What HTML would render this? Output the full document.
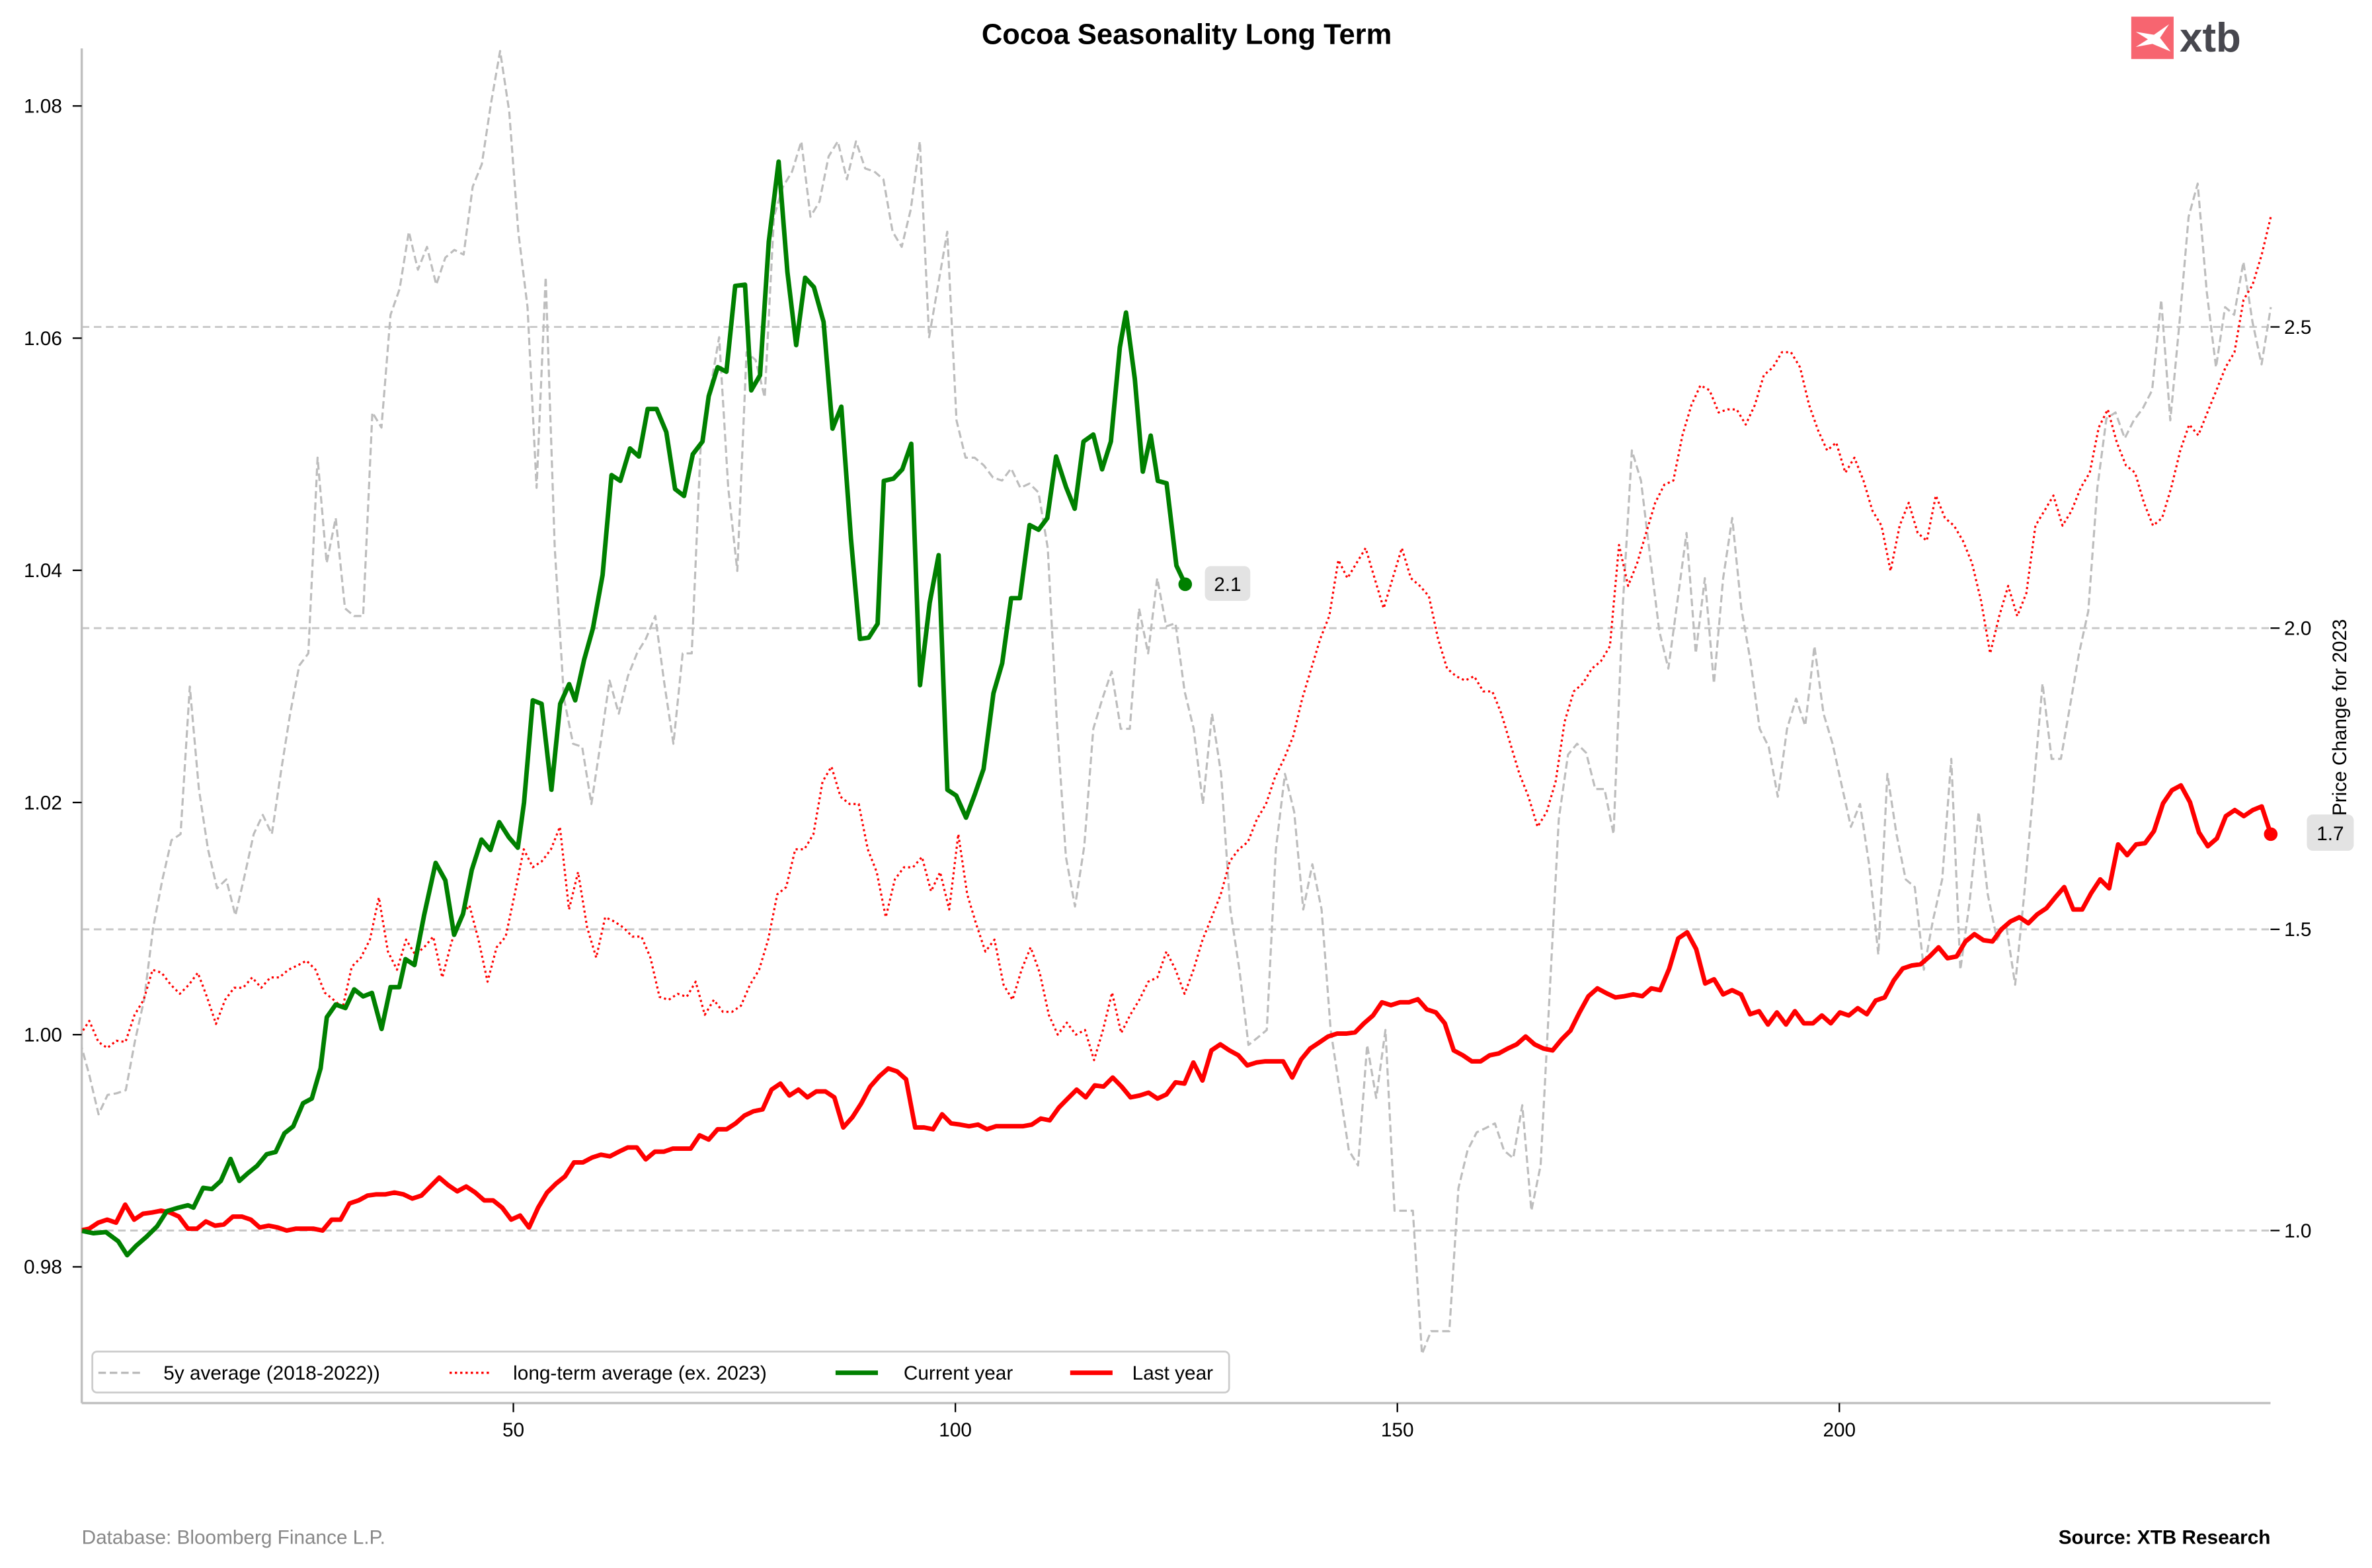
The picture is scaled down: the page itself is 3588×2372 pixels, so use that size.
<!DOCTYPE html>
<html><head><meta charset="utf-8"><style>
html,body{margin:0;padding:0;background:#fff;}
svg{display:block;font-family:"Liberation Sans",Arial,sans-serif;}
</style></head><body>
<svg id="chart" width="3588" height="2372" viewBox="0 0 1560 1031.3" xmlns="http://www.w3.org/2000/svg">
<rect x="0" y="0" width="1560" height="1031.3" fill="#fff"/>
<g id="root" transform="scale(0.9955)">
<text x="784" y="29" text-anchor="middle" font-size="19" font-weight="bold" fill="#000">Cocoa Seasonality Long Term</text>
<g>
<rect x="1408" y="11" width="28" height="28" fill="#f76570"/>
<path d="M1411 21 L1423 23 L1433 16 L1427 25 L1434 34 L1422 29 L1411 31 L1419 26 Z" fill="#fff"/>
<text x="1440" y="34" font-size="27" font-weight="bold" fill="#47474e">xtb</text>
</g>
<g id="grid"></g>
<g id="axes"></g>
<g id="series"></g>
<g id="annot"></g>
<g>
<rect x="61" y="893" width="751" height="27" rx="3" fill="#fff" stroke="#ccc" stroke-width="1.2"/>
<g><line x1="65" y1="907" x2="93" y2="907" stroke="#bbb" stroke-width="1.5" stroke-dasharray="5,2.5"/><text x="108" y="911.5" font-size="13">5y average (2018-2022))</text></g>
<g><line x1="297" y1="907" x2="325" y2="907" stroke="#f00" stroke-width="1.5" stroke-dasharray="1.5,2"/><text x="339" y="911.5" font-size="13">long-term average (ex. 2023)</text></g>
<g><line x1="552" y1="907" x2="580" y2="907" stroke="#008000" stroke-width="3"/><text x="597" y="911.5" font-size="13">Current year</text></g>
<g><line x1="707" y1="907" x2="735" y2="907" stroke="#f00" stroke-width="3"/><text x="748" y="911.5" font-size="13">Last year</text></g>
</g>
<text x="54" y="1020" font-size="13" fill="#888">Database: Bloomberg Finance L.P.</text>
<text x="1500" y="1020" font-size="13" font-weight="bold" text-anchor="end" fill="#000">Source: XTB Research</text>
</g>
</svg>
<script>
const xTicks = [50, 100, 150, 200];
const leftTicks = [0.98, 1.00, 1.02, 1.04, 1.06, 1.08];
const rightTicks = [1.0, 1.5, 2.0, 2.5];
const currentDays = [1.2,2.5,3.9,5.3,6.3,7.3,8.5,9.7,10.8,12.1,13.2,13.8,14.9,15.9,16.9,18.0,19.0,20.0,21.0,22.1,23.1,24.1,25.1,26.2,27.2,28.2,28.9,29.9,31.0,32.0,33.0,34.0,35.1,36.1,37.1,37.8,38.8,39.9,41.2,42.3,43.3,44.3,45.3,46.4,47.4,48.4,49.5,50.5,51.2,52.2,53.2,54.3,55.3,56.3,57.0,58.0,59.0,60.1,61.1,62.1,63.2,64.2,65.2,66.2,67.3,68.3,69.3,70.3,71.4,72.1,73.1,74.1,75.1,76.2,76.9,77.9,78.9,80.0,81.0,82.0,83.0,84.0,85.1,86.1,87.1,88.2,89.2,90.2,91.2,91.9,93.0,94.0,95.0,96.0,97.1,98.1,99.1,100.1,101.2,102.2,103.2,104.3,105.3,106.3,107.3,108.4,109.4,110.4,111.4,112.5,113.5,114.5,115.6,116.6,117.6,118.6,119.3,120.3,121.2,122.1,122.9,123.9,125.0,126.0];
const currentVals = [0.9831,0.9829,0.9830,0.9822,0.9810,0.9818,0.9826,0.9835,0.9848,0.9851,0.9853,0.9851,0.9868,0.9867,0.9874,0.9893,0.9874,0.9881,0.9887,0.9897,0.9899,0.9915,0.9921,0.9941,0.9945,0.9971,1.0015,1.0026,1.0023,1.0039,1.0033,1.0036,1.0005,1.0041,1.0041,1.0065,1.0060,1.0103,1.0148,1.0133,1.0086,1.0104,1.0142,1.0168,1.0159,1.0183,1.0170,1.0161,1.0200,1.0288,1.0285,1.0211,1.0285,1.0302,1.0288,1.0323,1.0350,1.0396,1.0482,1.0477,1.0505,1.0498,1.0539,1.0539,1.0519,1.0470,1.0464,1.0500,1.0511,1.0550,1.0575,1.0571,1.0645,1.0646,1.0555,1.0568,1.0683,1.0752,1.0657,1.0594,1.0652,1.0644,1.0614,1.0522,1.0541,1.0427,1.0341,1.0342,1.0354,1.0477,1.0479,1.0487,1.0509,1.0301,1.0372,1.0413,1.0211,1.0206,1.0187,1.0207,1.0229,1.0294,1.0320,1.0376,1.0376,1.0439,1.0435,1.0445,1.0498,1.0472,1.0453,1.0511,1.0517,1.0487,1.0511,1.0592,1.0622,1.0565,1.0485,1.0516,1.0477,1.0475,1.0404,1.0388];
const lastYearVals = [1.000,1.003,1.013,1.018,1.013,1.043,1.018,1.028,1.030,1.033,1.030,1.023,1.003,1.003,1.015,1.008,1.010,1.023,1.023,1.018,1.005,1.008,1.005,1.000,1.003,1.003,1.003,1.000,1.018,1.018,1.045,1.050,1.058,1.060,1.060,1.063,1.060,1.053,1.058,1.073,1.088,1.075,1.065,1.073,1.063,1.050,1.050,1.038,1.018,1.025,1.005,1.038,1.063,1.078,1.090,1.113,1.113,1.121,1.126,1.123,1.131,1.138,1.138,1.118,1.131,1.131,1.136,1.136,1.136,1.158,1.151,1.168,1.168,1.178,1.191,1.198,1.201,1.234,1.244,1.224,1.234,1.221,1.231,1.231,1.221,1.171,1.188,1.211,1.239,1.256,1.269,1.264,1.251,1.171,1.171,1.168,1.193,1.178,1.176,1.173,1.176,1.168,1.173,1.173,1.173,1.173,1.176,1.186,1.183,1.204,1.219,1.234,1.221,1.241,1.239,1.254,1.239,1.221,1.224,1.229,1.219,1.226,1.246,1.244,1.279,1.249,1.299,1.309,1.299,1.291,1.274,1.279,1.281,1.281,1.281,1.254,1.284,1.302,1.312,1.322,1.327,1.327,1.329,1.344,1.357,1.379,1.374,1.379,1.379,1.384,1.367,1.362,1.344,1.299,1.291,1.281,1.281,1.291,1.294,1.302,1.309,1.322,1.309,1.302,1.299,1.317,1.332,1.362,1.389,1.402,1.394,1.387,1.389,1.392,1.389,1.402,1.399,1.435,1.485,1.495,1.467,1.410,1.417,1.392,1.399,1.392,1.359,1.364,1.342,1.362,1.342,1.364,1.344,1.344,1.357,1.344,1.362,1.357,1.369,1.359,1.382,1.387,1.415,1.435,1.440,1.442,1.455,1.470,1.452,1.455,1.480,1.492,1.482,1.480,1.500,1.513,1.520,1.510,1.525,1.535,1.553,1.570,1.533,1.533,1.560,1.583,1.568,1.641,1.623,1.641,1.643,1.663,1.709,1.731,1.739,1.711,1.661,1.638,1.651,1.688,1.698,1.688,1.698,1.704,1.658];
const longTermVals = [1.325,1.348,1.313,1.303,1.315,1.313,1.358,1.383,1.433,1.428,1.408,1.393,1.408,1.428,1.388,1.343,1.383,1.403,1.403,1.42,1.403,1.42,1.42,1.433,1.44,1.448,1.433,1.395,1.383,1.37,1.438,1.453,1.483,1.553,1.463,1.433,1.483,1.458,1.47,1.488,1.42,1.478,1.52,1.54,1.483,1.413,1.47,1.488,1.558,1.633,1.603,1.613,1.633,1.67,1.533,1.595,1.503,1.453,1.52,1.513,1.503,1.488,1.488,1.453,1.388,1.383,1.393,1.388,1.413,1.358,1.383,1.363,1.363,1.373,1.408,1.433,1.483,1.558,1.57,1.633,1.633,1.658,1.745,1.77,1.72,1.708,1.708,1.633,1.595,1.52,1.583,1.603,1.603,1.62,1.563,1.595,1.533,1.658,1.558,1.508,1.463,1.483,1.408,1.383,1.433,1.47,1.428,1.358,1.325,1.345,1.325,1.333,1.283,1.333,1.395,1.328,1.358,1.383,1.413,1.42,1.463,1.433,1.393,1.433,1.483,1.52,1.558,1.613,1.633,1.645,1.683,1.708,1.753,1.783,1.82,1.883,1.933,1.983,2.02,2.113,2.083,2.108,2.133,2.083,2.033,2.083,2.133,2.083,2.07,2.053,1.983,1.933,1.92,1.913,1.92,1.895,1.895,1.858,1.808,1.758,1.72,1.67,1.695,1.745,1.845,1.895,1.908,1.933,1.945,1.97,2.138,2.07,2.108,2.158,2.208,2.238,2.245,2.32,2.37,2.403,2.395,2.358,2.363,2.363,2.338,2.37,2.42,2.433,2.458,2.458,2.433,2.37,2.328,2.295,2.308,2.258,2.283,2.245,2.195,2.17,2.095,2.17,2.208,2.158,2.145,2.22,2.183,2.17,2.145,2.108,2.045,1.958,2.02,2.07,2.02,2.058,2.17,2.195,2.22,2.17,2.195,2.233,2.258,2.333,2.363,2.308,2.27,2.258,2.208,2.17,2.183,2.233,2.295,2.338,2.32,2.358,2.395,2.433,2.458,2.545,2.57,2.62,2.683];
const fiveYearVals = [1.313,1.258,1.193,1.225,1.228,1.233,1.315,1.383,1.503,1.583,1.648,1.658,1.903,1.733,1.633,1.568,1.583,1.523,1.588,1.658,1.69,1.658,1.763,1.858,1.938,1.958,2.283,2.108,2.183,2.033,2.02,2.02,2.358,2.333,2.52,2.563,2.658,2.595,2.633,2.57,2.615,2.628,2.62,2.733,2.77,2.87,2.958,2.858,2.658,2.533,2.233,2.583,2.133,1.883,1.808,1.803,1.708,1.808,1.913,1.858,1.92,1.958,1.983,2.02,1.908,1.808,1.958,1.958,2.308,2.395,2.483,2.233,2.095,2.458,2.445,2.383,2.683,2.733,2.758,2.808,2.683,2.708,2.783,2.808,2.745,2.808,2.763,2.758,2.745,2.658,2.633,2.695,2.808,2.483,2.57,2.658,2.345,2.283,2.283,2.27,2.25,2.245,2.265,2.233,2.24,2.225,2.133,1.845,1.62,1.538,1.638,1.833,1.883,1.928,1.833,1.833,2.033,1.958,2.083,2.003,2.008,1.895,1.833,1.708,1.858,1.758,1.533,1.433,1.308,1.32,1.333,1.633,1.758,1.695,1.533,1.608,1.533,1.333,1.233,1.133,1.108,1.308,1.22,1.333,1.033,1.033,1.033,0.795,0.833,0.833,0.833,1.07,1.133,1.163,1.17,1.178,1.133,1.12,1.208,1.033,1.108,1.395,1.683,1.79,1.808,1.793,1.733,1.733,1.658,2.033,2.295,2.245,2.12,1.995,1.933,2.045,2.158,1.958,2.083,1.908,2.083,2.183,2.033,1.945,1.833,1.803,1.72,1.833,1.883,1.838,1.97,1.858,1.808,1.738,1.67,1.708,1.608,1.458,1.758,1.658,1.583,1.57,1.433,1.515,1.583,1.783,1.433,1.545,1.695,1.558,1.483,1.508,1.408,1.558,1.733,1.908,1.783,1.783,1.87,1.958,2.028,2.233,2.348,2.358,2.315,2.345,2.365,2.395,2.545,2.345,2.508,2.683,2.738,2.558,2.433,2.533,2.52,2.608,2.508,2.438,2.533];

const NS = 'http://www.w3.org/2000/svg';
const PL = 54, PR = 1500, PT = 32, PB = 927;
const X0 = 1, X1 = 248.8;
function sx(d){ return 53 + (d - 1) * 5.84; }
function syL(v){ return 837 - (v - 0.98) * 7670; }
function syR(v){ return 813 - (v - 1.0) * 398; }
function spread(n){ const a=[]; for(let i=0;i<n;i++) a.push(X0 + i*(X1-X0)/(n-1)); return a; }
function mk(tag, attrs, parent){ const e=document.createElementNS(NS, tag); for(const k in attrs) e.setAttribute(k, attrs[k]); parent.appendChild(e); return e; }

const svg = document.getElementById('chart');
const root = document.getElementById('root');
const defs = mk('defs', {}, svg);
const cp = mk('clipPath', {id:'plotclip'}, defs);
mk('rect', {x:PL, y:PT, width:PR-PL+2, height:PB-PT}, cp);

const grid = document.getElementById('grid');
rightTicks.forEach(t => {
  const l = mk('line', {x1:PL, x2:PR, y1:syR(t), y2:syR(t), stroke:'#c8c8c8', 'stroke-width':1.3, 'stroke-dasharray':'5,3'}, grid);
  
  
});

const axes = document.getElementById('axes');
const ls = mk('line', {x1:PL, x2:PL, y1:PT, y2:PB, stroke:'#c0c0c0', 'stroke-width':1.5}, axes);


const bs = mk('line', {x1:PL, x2:PR, y1:PB, y2:PB, stroke:'#c0c0c0', 'stroke-width':1.5}, axes);


leftTicks.forEach(t => {
  const y = syL(t);
  mk('line', {x1:48, x2:PL, y1:y, y2:y, stroke:'#000', 'stroke-width':1}, axes);
  const tx = mk('text', {x:41, y:y+4.5, 'text-anchor':'end', 'font-size':13}, axes);
  tx.textContent = t.toFixed(2);
  
  
});
rightTicks.forEach(t => {
  const y = syR(t);
  mk('line', {x1:PR, x2:PR+6, y1:y, y2:y, stroke:'#000', 'stroke-width':1}, axes);
  const tx = mk('text', {x:PR+9, y:y+4.5, 'font-size':13}, axes);
  tx.textContent = t.toFixed(1);
  
  
});
xTicks.forEach(t => {
  const x = sx(t);
  mk('line', {x1:x, x2:x, y1:PB, y2:PB+6, stroke:'#000', 'stroke-width':1}, axes);
  const tx = mk('text', {x:x, y:PB+22, 'text-anchor':'middle', 'font-size':13}, axes);
  tx.textContent = t;
  
  
});
const yl = mk('text', {x:0, y:0, 'text-anchor':'middle', 'font-size':13, transform:'translate(1550,474) rotate(-90)'}, axes);
yl.textContent = 'Price Change for 2023';



const series = document.getElementById('series');
series.setAttribute('clip-path', 'url(#plotclip)');
function line(days, vals, sy, style, name){
  const pts = vals.map((v,i) => sx(days[i]).toFixed(1) + ',' + sy(v).toFixed(1)).join(' ');
  const p = mk('polyline', Object.assign({points:pts, fill:'none', 'stroke-linejoin':'round'}, style), series);
  
  
  return p;
}
line(spread(fiveYearVals.length), fiveYearVals, syR, {stroke:'#bdbdbd', 'stroke-width':1.4, 'stroke-dasharray':'5,2.5'}, 'five-year-average-line');
line(spread(longTermVals.length), longTermVals, syR, {stroke:'#ff0000', 'stroke-width':1.4, 'stroke-dasharray':'1.4,2'}, 'long-term-average-line');
const lyDays = spread(lastYearVals.length);
line(lyDays, lastYearVals, syR, {stroke:'#ff0000', 'stroke-width':3}, 'last-year-line');
line(currentDays, currentVals, syL, {stroke:'#008000', 'stroke-width':3}, 'current-year-line');

const annot = document.getElementById('annot');
const gx = sx(currentDays[currentDays.length-1]), gy = syL(currentVals[currentVals.length-1]);
const gd = mk('circle', {cx:gx, cy:gy, r:4.5, fill:'#008000'}, annot);


mk('rect', {x:gx+13, y:gy-12, width:30, height:23, rx:4, fill:'#e3e3e3'}, annot);
const gl = mk('text', {x:gx+28, y:gy+4.5, 'text-anchor':'middle', 'font-size':13}, annot);
gl.textContent = '2.1';


const rx = sx(lyDays[lyDays.length-1]), ry = syR(lastYearVals[lastYearVals.length-1]);
const rd = mk('circle', {cx:rx, cy:ry, r:4.5, fill:'#ff0000'}, annot);


mk('rect', {x:1524, y:ry-13, width:31, height:24, rx:4, fill:'#e3e3e3'}, annot);
const rl = mk('text', {x:1539.5, y:ry+4, 'text-anchor':'middle', 'font-size':13}, annot);
rl.textContent = '1.7';


</script>
</body></html>
